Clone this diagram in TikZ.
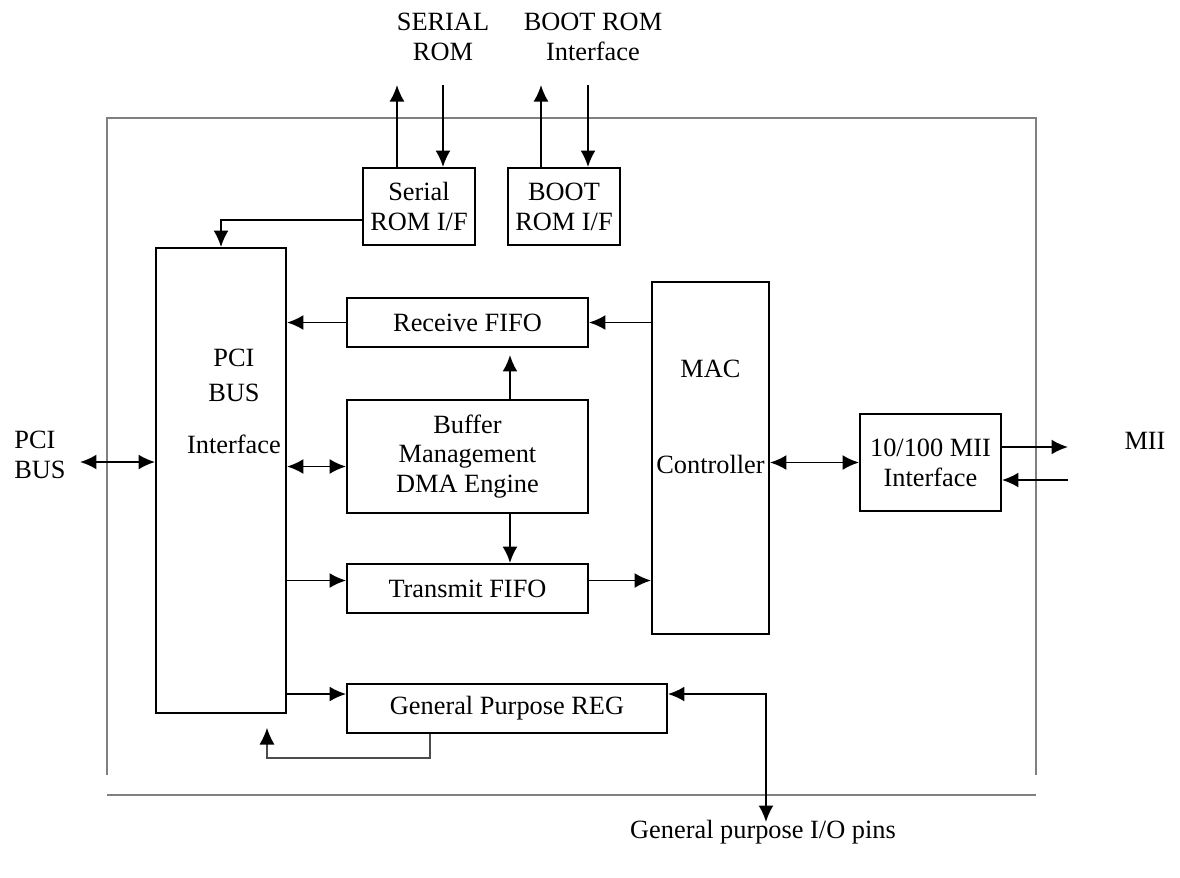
\documentclass[tikz,border=0pt]{standalone}
\usepackage{fontspec}
\setmainfont{Liberation Serif}
\usetikzlibrary{arrows.meta,positioning,calc}
\tikzset{
  blk/.style={draw, line width=1.1pt, align=center, inner sep=0pt},
  tip/.style={-{Latex[length=3.3mm,width=3mm]}},
  lnk/.style={line width=1.1pt, tip},
  dlnk/.style={line width=1.1pt, {Latex[length=3.3mm,width=3mm]}-{Latex[length=3.3mm,width=3mm]}},
  frame/.style={draw=gray, line width=0.6pt},
  lbl/.style={align=center, inner sep=0pt}
}

\begin{document}
\begin{tikzpicture}[x=0.02cm,y=-0.02cm,font=\fontsize{15}{17}\selectfont]
\useasboundingbox (0,0) rectangle (1180,877);
% chip outline
\draw[frame] (107,775) -- (107,118) -- (1036,118) -- (1036,775);
\draw[frame] (107,795) -- (1036,795);

% blocks
\node[blk, minimum width=2.24cm, minimum height=1.54cm] (srom) at (419,206.5) {Serial\\ROM I/F};
\node[blk, minimum width=2.24cm, minimum height=1.54cm] (brom) at (564,206.5) {BOOT\\ROM I/F};
\node[blk, minimum width=2.6cm, minimum height=9.3cm] (pci) at (221,480.5) {};
\node[lbl] (pcitxt) at (234,401) {PCI\\[3pt]BUS\\[12.5pt]Interface};
\node[blk, minimum width=4.82cm, minimum height=0.98cm] (rxf) at (467.5,322.5) {Receive FIFO};
\node[blk, minimum width=4.82cm, minimum height=2.26cm] (dma) at (467.5,456.5) {Buffer\\Management\\DMA Engine};
\node[blk, minimum width=4.82cm, minimum height=0.98cm] (txf) at (467.5,588.5) {Transmit FIFO};
\node[blk, minimum width=6.4cm, minimum height=0.98cm] (gpr) at (507,708.5) {General Purpose REG};
\node[blk, minimum width=2.34cm, minimum height=7.04cm] (mac) at (710.5,458) {};
\node[lbl] (mactxt) at (710.5,417) {MAC\\[37.4pt]Controller};
\node[blk, minimum width=2.82cm, minimum height=1.94cm] (mii) at (930.5,462.5) {10/100 MII\\Interface};

% outside labels
\node[lbl] (srlbl) at (443,37) {SERIAL\\ROM};
\node[lbl] (brlbl) at (593,37) {BOOT ROM\\Interface};
\node[lbl, align=left, anchor=west] (pcilbl) at (14,455) {PCI\\BUS};
\node[lbl] (miilbl) at (1145,441) {MII};
\node[lbl] (iolbl) at (763,832) {General purpose I/O pins};

% free ends
\coordinate (srout) at (397,85);
\coordinate (srin) at (443,85);
\coordinate (brout) at (541,85);
\coordinate (brin) at (588,85);
\coordinate (pcibus) at (80,462);
\coordinate (miiout) at (1068,447);
\coordinate (miiin) at (1068,480);
\coordinate (io) at (766,822);
\coordinate (fb) at (430,758);
\coordinate (fbtip) at (267,728);

% connections
\draw[lnk] (srom.north -| srout) -- (srout);
\draw[lnk] (srin) -- (srom.north -| srin);
\draw[lnk] (brom.north -| brout) -- (brout);
\draw[lnk] (brin) -- (brom.north -| brin);
\draw[lnk] ([yshift=-0.27cm]srom.west) -| (pci.north);
\draw[dlnk] (pcibus) -- (pcibus -| pci.west);
\draw[lnk] (rxf.west) -- (rxf.west -| pci.east);
\draw[lnk] (rxf.east -| mac.west) -- (rxf.east);
\draw[lnk] ([xshift=0.85cm]dma.north) -- ([xshift=0.85cm,yshift=-0.14cm]rxf.south);
\draw[lnk] ([xshift=0.85cm]dma.south) -- ([xshift=0.85cm]txf.north);
\draw[dlnk] ([yshift=-0.2cm]dma.west -| pci.east) -- ([yshift=-0.2cm]dma.west);
\draw[lnk] ([yshift=0.16cm]txf.west -| pci.east) -- ([yshift=0.16cm]txf.west);
\draw[lnk] ([yshift=0.16cm]txf.east) -- ([yshift=0.16cm]txf.east -| mac.west);
\draw[dlnk] (mac.east |- mii.west) -- (mii.west);
\draw[lnk] (miiout -| mii.east) -- (miiout);
\draw[lnk] (miiin) -- (miiin -| mii.east);
\draw[lnk] ([yshift=0.29cm]gpr.west -| pci.east) -- ([yshift=0.29cm]gpr.west);
\draw[dlnk] ([yshift=0.29cm]gpr.east) -| (io);
\draw[draw=black!70, line width=0.6pt, -{Latex[length=3.3mm,width=3mm,color=black]}] (gpr.south -| fb) -- (fb) -| (fbtip);
\end{tikzpicture}
\end{document}
